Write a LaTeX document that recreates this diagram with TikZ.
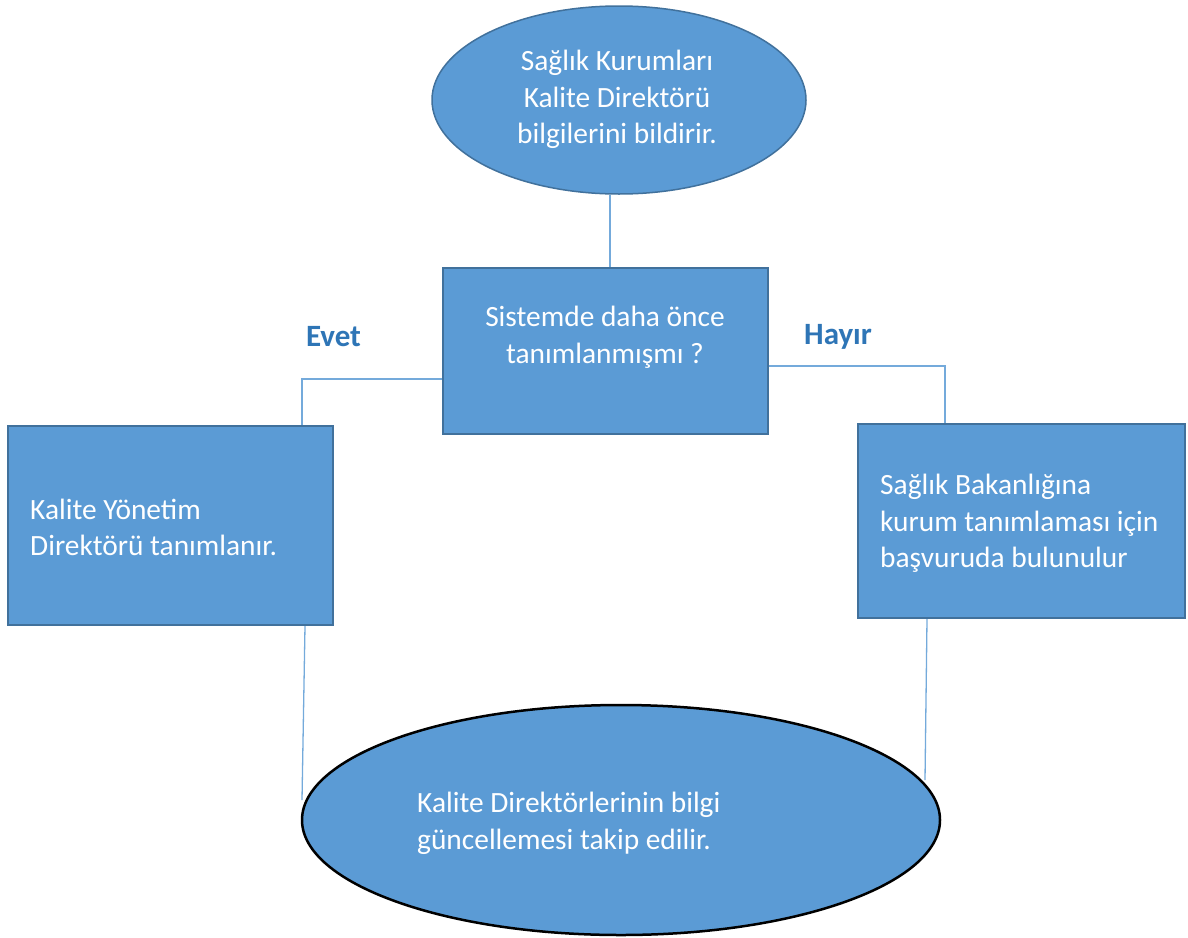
\documentclass[tikz,border=0pt]{standalone}
\usepackage{fontspec}
\setmainfont{Carlito}
\usetikzlibrary{shapes.geometric}
\definecolor{boxblue}{HTML}{5B9BD5}
\definecolor{edgeblue}{HTML}{41719C}
\definecolor{labelblue}{HTML}{2E75B6}

\begin{document}
\begin{tikzpicture}[x=1pt,y=-1pt,
    oval/.style={ellipse, fill=boxblue, draw=edgeblue, line width=1.5pt, inner sep=0pt},
    box/.style={rectangle, fill=boxblue, draw=edgeblue, line width=2pt, inner sep=0pt},
    flow/.style={draw=boxblue!85, line width=1.3pt},
    body/.style={text=white, inner sep=0pt, font=\fontsize{29.4}{36.5}\selectfont},
    answer/.style={text=labelblue, inner sep=0pt, font=\fontsize{31}{36}\selectfont\bfseries}]
    \useasboundingbox (0,0) rectangle (1188,937);

    % shapes
    \node[oval, minimum width=374pt, minimum height=188pt] (report) at (619,100) {};
    \node[box, minimum width=325pt, minimum height=166pt] (ask) at (605.5,351) {};
    \node[box, minimum width=325pt, minimum height=199pt] (yes) at (170.5,525.5) {};
    \node[box, minimum width=327pt, minimum height=194pt] (no) at (1021.5,521) {};
    \node[oval, draw=black, line width=2.5pt, minimum width=638pt, minimum height=230pt] (follow) at (621,820) {};

    % texts
    \node[body, align=center] (report text) at (617,99.5) {Sağlık Kurumları\\Kalite Direktörü\\bilgilerini bildirir.};
    \node[body, align=center] (ask text) at (605,337.5) {Sistemde daha önce\\tanımlanmışmı ?};
    \node[body, align=left, anchor=west] (yes text) at (30,527.5) {Kalite Yönetim\\Direktörü tanımlanır.};
    \node[body, align=left, anchor=west] (no text) at (880,523.5) {Sağlık Bakanlığına\\kurum tanımlaması için\\başvuruda bulunulur};
    \node[body, align=left, anchor=west] (follow text) at (417,823.5) {Kalite Direktörlerinin bilgi\\güncellemesi takip edilir.};
    \node[answer] (yes label) at (333.5,337) {Evet};
    \node[answer] (no label) at (838,337) {Hayır};

    % connectors
    \coordinate (yes end) at (302,800);
    \coordinate (no end) at (925,780);
    \draw[flow] ([xshift=4.5pt]ask.north) -- ([xshift=4.5pt]ask.north |- report.south);
    \draw[flow] ([yshift=-28pt]ask.west) -| ([xshift=131.5pt]yes.north);
    \draw[flow] ([yshift=-15pt]ask.east) -| ([xshift=-76.5pt]no.north);
    \draw[flow] ([xshift=134.5pt]yes.south) -- (yes end);
    \draw[flow] ([xshift=-94.5pt]no.south) -- (no end);
\end{tikzpicture}
\end{document}
